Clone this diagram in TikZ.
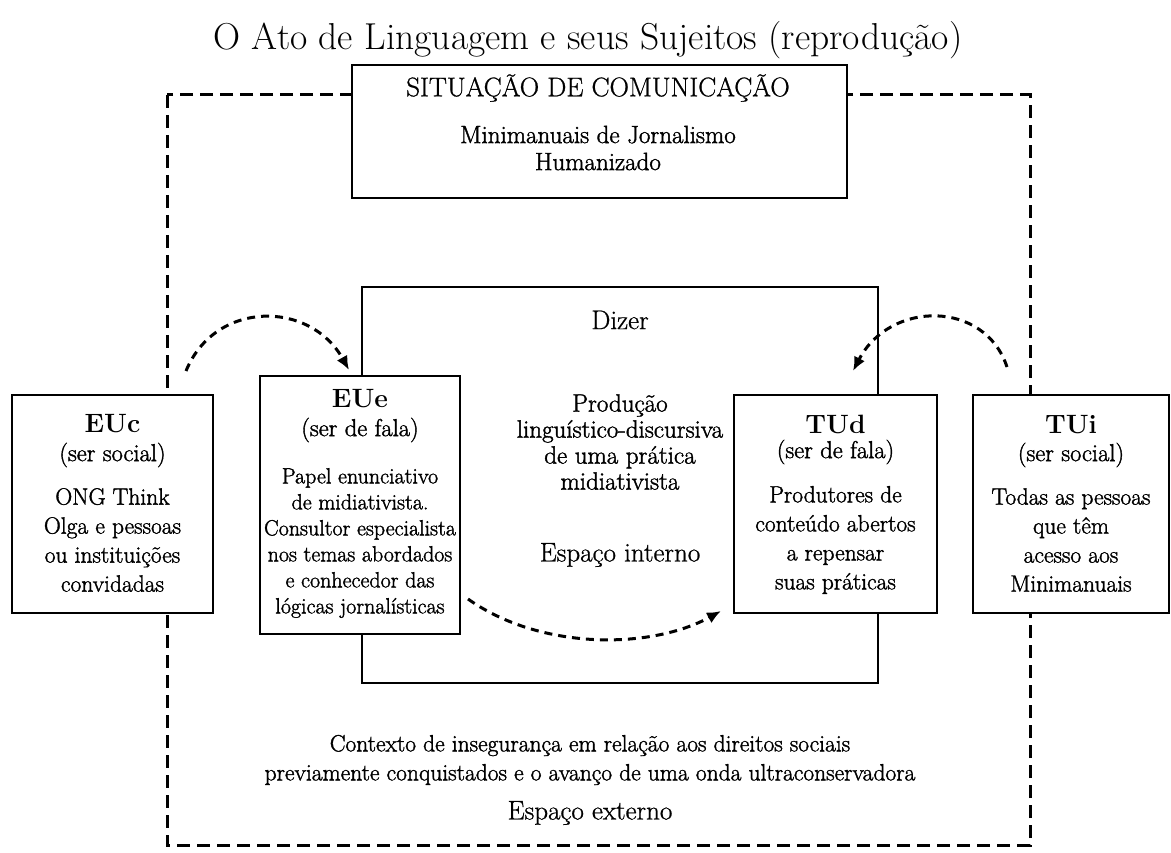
\documentclass[tikz,border=0pt]{standalone}
\usepackage{fontspec}
\newfontfamily\bodyf{Latin Modern Roman}[FakeBold=1.5]
\newfontfamily\slabf{Latin Modern Roman}[FakeBold=0.8]
\usetikzlibrary{arrows.meta}
\begin{document}
\begin{tikzpicture}[x=1pt,y=-1pt,
  box/.style={draw,line width=2pt,fill=white,inner sep=0pt},
  outer/.style={line width=3pt,dash pattern=on 13pt off 7pt},
  flow/.style={line width=3pt,dash pattern=on 8pt off 6pt,-{Latex[length=14pt,width=12pt]}},
  head/.style={font=\bfseries\fontsize{26.5}{30}\selectfont},
  sub/.style={font=\bodyf\fontsize{24.5}{28}\selectfont},
  body/.style={align=center,font=\bodyf\fontsize{23.5}{29}\selectfont},
  slab/.style={font=\slabf\fontsize{27}{30}\selectfont},
]
\useasboundingbox (0,0) rectangle (1171,853);
\fill[white] (0,0) rectangle (1171,853);

\node (title) at (588,40) {\fontsize{37.5}{42}\selectfont O Ato de Linguagem e seus Sujeitos (reprodução)};

\draw[outer] (167,95) rectangle (1030,845);

\node[box, minimum width=495pt, minimum height=133pt] (sit) at (599.5,131.5) {};
\node[slab] (sitt) at (598,88) {SITUAÇÃO DE COMUNICAÇÃO};
\node[align=center, font=\bodyf\fontsize{25}{27}\selectfont] (mini) at (598,148) {Minimanuais de Jornalismo\\Humanizado};

\node[draw, line width=2.5pt, minimum width=516pt, minimum height=396pt, inner sep=0pt] (dizer) at (620,485) {};
\node[slab] (dz) at (620,320) {Dizer};
\node[align=center, font=\bodyf\fontsize{25}{26}\selectfont] (prod) at (620,442) {Produção\\linguístico-discursiva\\de uma prática\\midiativista};
\node[slab] (ei) at (620,555) {Espaço interno};

% side boxes
\node[box, minimum width=201pt, minimum height=218pt] (EUc) at (112.5,504) {};
\node[head] (EUch) at (112.5,424) {EUc};
\node[sub] (EUcs) at (112.5,455) {(ser social)};
\node[body] (EUcb) at (112.5,540) {ONG Think\\Olga e pessoas\\ou instituições\\convidadas};

\node[box, minimum width=200pt, minimum height=258pt] (EUe) at (360,505) {};
\node[head] (EUeh) at (360,399) {EUe};
\node[sub] (EUes) at (360,430) {(ser de fala)};
\node[align=center, font=\bodyf\fontsize{22}{26}\selectfont] (EUeb) at (360,543) {Papel enunciativo\\de midiativista.\\Consultor especialista\\nos temas abordados\\e conhecedor das\\lógicas jornalísticas};

\node[box, minimum width=203pt, minimum height=218pt] (TUd) at (835.5,504) {};
\node[head] (TUdh) at (835.5,424) {TUd};
\node[sub] (TUds) at (835.5,452) {(ser de fala)};
\node[body] (TUdb) at (835.5,540) {Produtores de\\conteúdo abertos\\a repensar\\suas práticas};

\node[box, minimum width=196pt, minimum height=218pt] (TUi) at (1071,504) {};
\node[head] (TUih) at (1071,425) {TUi};
\node[sub] (TUis) at (1071,455) {(ser social)};
\node[body] (TUib) at (1071,540) {Todas as pessoas\\que têm\\acesso aos\\Minimanuais};

% bottom texts
\node[align=center, font=\bodyf\fontsize{23.5}{29}\selectfont] (ctx) at (590,760) {Contexto de insegurança em relação aos direitos sociais\\previamente conquistados e o avanço de uma onda ultraconservadora};
\node[slab] (ee) at (590,813) {Espaço externo};

% curved dashed arrows
\coordinate (a1s) at ([xshift=-28pt,yshift=23pt]EUc.north east);
\coordinate (a1e) at ([xshift=-11pt,yshift=5pt]EUe.north);
\draw[flow] (a1s) .. controls (215,300) and (310,300) .. (a1e);

\coordinate (a2s) at ([xshift=35pt,yshift=27pt]TUi.north west);
\coordinate (a2e) at ([xshift=17.5pt,yshift=23pt]TUd.north);
\draw[flow] (a2s) .. controls (985,300) and (890,300) .. (a2e);

\coordinate (a3s) at ([xshift=7pt,yshift=36pt]EUe.south east);
\coordinate (a3e) at ([xshift=-12pt,yshift=3pt]TUd.south west);
\draw[flow] (a3s) .. controls (540,650) and (650,650) .. (a3e);
\end{tikzpicture}
\end{document}
